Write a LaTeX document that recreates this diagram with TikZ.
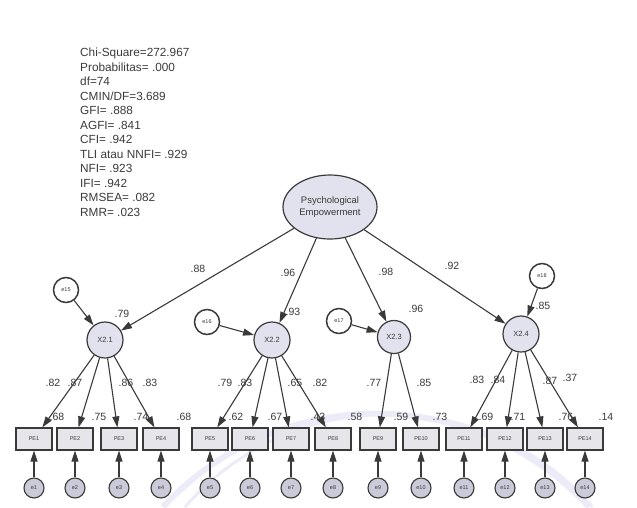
\documentclass[tikz,border=0pt]{standalone}
\usepackage{fontspec}
\setmainfont{Liberation Sans}
\usetikzlibrary{arrows.meta,shapes.geometric}
\definecolor{ink}{HTML}{3A3A3A}
\definecolor{latfill}{HTML}{E2E2EE}
\definecolor{boxfill}{HTML}{E6E6EA}
\definecolor{errfill}{HTML}{CACAD8}
\definecolor{wmark}{HTML}{ECECF8}
\begin{document}
\begin{tikzpicture}[x=1pt,y=-1pt,
  latent/.style={circle, draw=ink, line width=1.2pt, fill=latfill, minimum size=36pt, inner sep=0pt, font=\fontsize{7.5}{8}\selectfont, text=ink},
  factor/.style={ellipse, draw=ink, line width=1.2pt, fill=latfill, minimum width=94pt, minimum height=64pt, inner sep=0pt, align=center, font=\fontsize{9.5}{12.5}\selectfont, text=ink},
  dist/.style={circle, draw=ink, line width=1.5pt, fill=white, minimum size=25pt, inner sep=0pt, font=\fontsize{5.5}{6}\selectfont, text=ink},
  ind/.style={rectangle, draw=ink, line width=1.2pt, fill=boxfill, minimum width=36pt, minimum height=22pt, inner sep=0pt, font=\fontsize{5.5}{6}\selectfont, text=ink},
  err/.style={circle, draw=ink, line width=1.1pt, fill=errfill, minimum size=20pt, inner sep=0pt, font=\fontsize{5.5}{6}\selectfont, text=ink},
  arr/.style={draw=ink, line width=1.1pt, -{Triangle[length=11pt,width=7pt]}},
  lbl/.style={font=\fontsize{10.5}{12}\selectfont, text=ink, inner sep=0pt}]
\useasboundingbox (0,0) rectangle (637,507);

% faint watermark bands along the bottom
\draw[wmark, line width=6pt] (163,507) arc[start angle=-137.3, end angle=-42.7, radius=290];
\draw[wmark, line width=3pt] (185,507) arc[start angle=-139, end angle=-41, radius=270];

% model fit summary
\node[anchor=north west, align=left, inner sep=0pt, text=ink,
      font=\fontsize{11.8}{14.5}\selectfont] (fit) at (80,48)
  {Chi-Square=272.967\\Probabilitas= .000\\df=74\\CMIN/DF=3.689\\GFI= .888\\AGFI= .841\\CFI= .942\\TLI atau NNFI= .929\\NFI= .923\\IFI= .942\\RMSEA= .082\\RMR= .023};

% second-order factor
\node[factor] (pe) at (330,207) {Psychological\\Empowerment};

% first-order factors
\node[latent] (x1) at (105,340) {X2.1};
\node[latent] (x2) at (272,340) {X2.2};
\node[latent, minimum size=33pt] (x3) at (394,337) {X2.3};
\node[latent] (x4) at (521,334) {X2.4};

% disturbances
\node[dist] (z1) at (66,290) {e15};
\node[dist] (z2) at (207,322) {e16};
\node[dist] (z3) at (339,321) {e17};
\node[dist] (z4) at (542,276) {e18};

% indicators and their errors
\foreach \i/\x in {1/34,2/75,3/119,4/161,5/210,6/250,7/291,8/333,9/378,10/421,11/464,12/505,13/545,14/585}{
  \node[ind] (p\i) at (\x,439) {PE\i};
  \node[err] (e\i) at (\x,488) {e\i};
  \draw[arr] (e\i) -- (p\i);
}

% structural paths
\foreach \k in {1,2,3,4}{
  \draw[arr] (pe) -- (x\k);
  \draw[arr] (z\k) -- (x\k);
}

% measurement paths
\foreach \i in {1,2,3,4}{\draw[arr] (x1) -- (p\i);}
\foreach \i in {5,6,7,8}{\draw[arr] (x2) -- (p\i);}
\foreach \i in {9,10}{\draw[arr] (x3) -- (p\i);}
\foreach \i in {11,12,13,14}{\draw[arr] (x4) -- (p\i);}

% second-order loadings and squared multiple correlations
\node[lbl] (l1) at (198,269) {.88};
\node[lbl] (l2) at (288,273) {.96};
\node[lbl] (l3) at (386,272) {.98};
\node[lbl] (l4) at (452,266) {.92};
\node[lbl] (r1) at (122,314) {.79};
\node[lbl] (r2) at (293,312) {.93};
\node[lbl] (r3) at (416,309) {.96};
\node[lbl] (r4) at (543,306) {.85};

% first-order loadings
\foreach \v/\x/\y in {.82/53/383,.87/75/383,.86/126/383,.83/150/383,
                      .79/225/383,.83/245/383,.65/295/383,.82/320/383,
                      .77/374/383,.85/424/383,
                      .83/477/380,.84/498/380,.87/550/381,.37/570/378}{
  \node[lbl] at (\x,\y) {\v};
}

% indicator squared multiple correlations
\foreach \v/\x in {.68/57,.75/99,.74/141,.68/184,
                   .62/236,.67/275,.43/318,.58/355,
                   .59/401,.73/440,
                   .69/486,.71/518,.76/566,.14/606}{
  \node[lbl] at (\x,417) {\v};
}
\end{tikzpicture}
\end{document}
